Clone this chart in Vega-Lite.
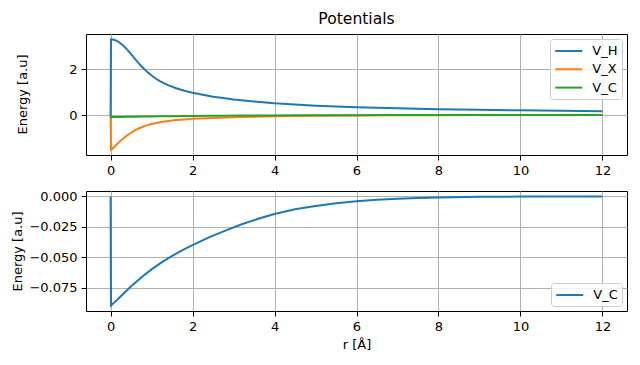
{
 "$schema": "https://vega.github.io/schema/vega-lite/v6.json",
 "background": "white",
 "padding": {"left": 10, "top": 11, "right": 5, "bottom": 5},
 "title": {"text": "Potentials", "anchor": "middle", "frame": "group", "baseline": "bottom", "offset": -9},
 "config": {
  "font": "DejaVu Sans",
  "view": {"stroke": "#000", "strokeWidth": 1},
  "axis": {"grid": true, "gridColor": "#b0b0b0", "gridWidth": 1, "domain": false, "tickColor": "#000", "tickSize": 5, "labelPadding": 4, "labelFontSize": 13, "labelColor": "#000", "titleFontSize": 13, "titleFontWeight": "normal", "titleColor": "#000", "labelFont": "DejaVu Sans", "titleFont": "DejaVu Sans"},
  "legend": {"orient": "top-right", "offset": 5, "symbolType": "M-2,0H2", "symbolSize": 182, "symbolOffset": 6.75, "symbolStrokeWidth": 2, "labelFontSize": 13, "labelFont": "DejaVu Sans", "labelColor": "#000", "padding": 4, "rowPadding": 3.3, "labelOffset": 15.5, "fillColor": "rgba(255,255,255,0.8)", "strokeColor": "#cccccc", "cornerRadius": 3},
  "title": {"fontSize": 15.6, "fontWeight": "normal", "font": "DejaVu Sans", "color": "#000"}
 },
 "datasets": {
  "pot": [
   {"r": 0, "v": 0, "s": "V_H"}, {"r": 0.01, "v": 3.30, "s": "V_H"}, {"r": 0.05, "v": 3.29, "s": "V_H"}, {"r": 0.1, "v": 3.27, "s": "V_H"}, {"r": 0.15, "v": 3.23, "s": "V_H"}, {"r": 0.2, "v": 3.18, "s": "V_H"}, {"r": 0.3, "v": 3.04, "s": "V_H"}, {"r": 0.4, "v": 2.86, "s": "V_H"}, {"r": 0.5, "v": 2.65, "s": "V_H"}, {"r": 0.6, "v": 2.44, "s": "V_H"}, {"r": 0.7, "v": 2.23, "s": "V_H"}, {"r": 0.8, "v": 2.04, "s": "V_H"}, {"r": 0.9, "v": 1.87, "s": "V_H"}, {"r": 1.0, "v": 1.72, "s": "V_H"}, {"r": 1.1, "v": 1.59, "s": "V_H"}, {"r": 1.2, "v": 1.48, "s": "V_H"}, {"r": 1.4, "v": 1.30, "s": "V_H"}, {"r": 1.6, "v": 1.17, "s": "V_H"}, {"r": 1.8, "v": 1.06, "s": "V_H"}, {"r": 2.0, "v": 0.97, "s": "V_H"}, {"r": 2.25, "v": 0.88, "s": "V_H"}, {"r": 2.5, "v": 0.80, "s": "V_H"}, {"r": 2.75, "v": 0.74, "s": "V_H"}, {"r": 3.0, "v": 0.68, "s": "V_H"}, {"r": 3.5, "v": 0.59, "s": "V_H"}, {"r": 4.0, "v": 0.515, "s": "V_H"}, {"r": 4.5, "v": 0.46, "s": "V_H"}, {"r": 5.0, "v": 0.41, "s": "V_H"}, {"r": 5.5, "v": 0.375, "s": "V_H"}, {"r": 6.0, "v": 0.345, "s": "V_H"}, {"r": 7.0, "v": 0.295, "s": "V_H"}, {"r": 8.0, "v": 0.255, "s": "V_H"}, {"r": 9.0, "v": 0.228, "s": "V_H"}, {"r": 10.0, "v": 0.205, "s": "V_H"}, {"r": 11.0, "v": 0.187, "s": "V_H"}, {"r": 12.0, "v": 0.17, "s": "V_H"},
   {"r": 0, "v": 0, "s": "V_X"}, {"r": 0.01, "v": -1.50, "s": "V_X"}, {"r": 0.05, "v": -1.45, "s": "V_X"}, {"r": 0.1, "v": -1.37, "s": "V_X"}, {"r": 0.15, "v": -1.28, "s": "V_X"}, {"r": 0.2, "v": -1.19, "s": "V_X"}, {"r": 0.3, "v": -1.03, "s": "V_X"}, {"r": 0.4, "v": -0.89, "s": "V_X"}, {"r": 0.5, "v": -0.77, "s": "V_X"}, {"r": 0.6, "v": -0.66, "s": "V_X"}, {"r": 0.7, "v": -0.575, "s": "V_X"}, {"r": 0.8, "v": -0.50, "s": "V_X"}, {"r": 0.9, "v": -0.44, "s": "V_X"}, {"r": 1.0, "v": -0.39, "s": "V_X"}, {"r": 1.2, "v": -0.31, "s": "V_X"}, {"r": 1.4, "v": -0.26, "s": "V_X"}, {"r": 1.6, "v": -0.22, "s": "V_X"}, {"r": 1.8, "v": -0.19, "s": "V_X"}, {"r": 2.0, "v": -0.165, "s": "V_X"}, {"r": 2.5, "v": -0.125, "s": "V_X"}, {"r": 3.0, "v": -0.095, "s": "V_X"}, {"r": 3.5, "v": -0.072, "s": "V_X"}, {"r": 4.0, "v": -0.054, "s": "V_X"}, {"r": 5.0, "v": -0.03, "s": "V_X"}, {"r": 6.0, "v": -0.016, "s": "V_X"}, {"r": 7.0, "v": -0.008, "s": "V_X"}, {"r": 8.0, "v": -0.004, "s": "V_X"}, {"r": 9.0, "v": -0.002, "s": "V_X"}, {"r": 10.0, "v": -0.001, "s": "V_X"}, {"r": 12.0, "v": 0, "s": "V_X"},
   {"r": 0, "v": 0, "s": "V_C"}, {"r": 0.01, "v": -0.0898, "s": "V_C"}, {"r": 0.1, "v": -0.0870, "s": "V_C"}, {"r": 0.2, "v": -0.0838, "s": "V_C"}, {"r": 0.3, "v": -0.0805, "s": "V_C"}, {"r": 0.4, "v": -0.0772, "s": "V_C"}, {"r": 0.5, "v": -0.0740, "s": "V_C"}, {"r": 0.6, "v": -0.0710, "s": "V_C"}, {"r": 0.8, "v": -0.0653, "s": "V_C"}, {"r": 1.0, "v": -0.0600, "s": "V_C"}, {"r": 1.2, "v": -0.0553, "s": "V_C"}, {"r": 1.4, "v": -0.0510, "s": "V_C"}, {"r": 1.6, "v": -0.0470, "s": "V_C"}, {"r": 1.8, "v": -0.0434, "s": "V_C"}, {"r": 2.0, "v": -0.0400, "s": "V_C"}, {"r": 2.4, "v": -0.0337, "s": "V_C"}, {"r": 2.8, "v": -0.0281, "s": "V_C"}, {"r": 3.2, "v": -0.0229, "s": "V_C"}, {"r": 3.6, "v": -0.0184, "s": "V_C"}, {"r": 4.0, "v": -0.0145, "s": "V_C"}, {"r": 4.5, "v": -0.0106, "s": "V_C"}, {"r": 5.0, "v": -0.0078, "s": "V_C"}, {"r": 5.5, "v": -0.0056, "s": "V_C"}, {"r": 6.0, "v": -0.0040, "s": "V_C"}, {"r": 6.5, "v": -0.0028, "s": "V_C"}, {"r": 7.0, "v": -0.0019, "s": "V_C"}, {"r": 7.5, "v": -0.0012, "s": "V_C"}, {"r": 8.0, "v": -0.0008, "s": "V_C"}, {"r": 9.0, "v": -0.0003, "s": "V_C"}, {"r": 10.0, "v": -0.0001, "s": "V_C"}, {"r": 11.0, "v": 0, "s": "V_C"}, {"r": 12.0, "v": 0, "s": "V_C"}
  ]
 },
 "spacing": 36,
 "bounds": "flush",
 "resolve": {"scale": {"color": "independent"}, "legend": {"color": "independent"}},
 "vconcat": [
  {
   "width": 541, "height": 121,
   "data": {"name": "pot"},
   "mark": {"type": "line", "strokeWidth": 2, "clip": true},
   "encoding": {
    "x": {"field": "r", "type": "quantitative", "scale": {"domain": [-0.6, 12.6], "nice": false, "zero": false}, "axis": {"values": [0, 2, 4, 6, 8, 10, 12], "title": null, "format": "d"}},
    "y": {"field": "v", "type": "quantitative", "scale": {"domain": [-1.74, 3.53], "nice": false, "zero": false}, "axis": {"values": [0, 2], "format": "d", "title": "Energy [a.u]", "titleBaseline": "middle", "titleX": -64, "titleY": 60}},
    "color": {"field": "s", "type": "nominal", "sort": ["V_H", "V_X", "V_C"], "scale": {"domain": ["V_H", "V_X", "V_C"], "range": ["#1f77b4", "#ff7f0e", "#2ca02c"]}, "legend": {"title": null}},
    "order": {"field": "r", "type": "quantitative"}
   }
  },
  {
   "width": 541, "height": 120,
   "data": {"name": "pot"},
   "transform": [{"filter": "datum.s === 'V_C'"}],
   "mark": {"type": "line", "strokeWidth": 2, "clip": true},
   "encoding": {
    "x": {"field": "r", "type": "quantitative", "scale": {"domain": [-0.6, 12.6], "nice": false, "zero": false}, "axis": {"values": [0, 2, 4, 6, 8, 10, 12], "title": "r [Å]", "format": "d", "titleBaseline": "alphabetic", "titleY": 37}},
    "y": {"field": "v", "type": "quantitative", "scale": {"domain": [-0.0943, 0.0045], "nice": false, "zero": false}, "axis": {"values": [0, -0.025, -0.05, -0.075], "format": ".3f", "title": "Energy [a.u]", "titleBaseline": "middle", "titleX": -69, "titleY": 60}},
    "color": {"field": "s", "type": "nominal", "scale": {"domain": ["V_C"], "range": ["#1f77b4"]}, "legend": {"title": null, "orient": "bottom-right"}},
    "order": {"field": "r", "type": "quantitative"}
   }
  }
 ]
}
